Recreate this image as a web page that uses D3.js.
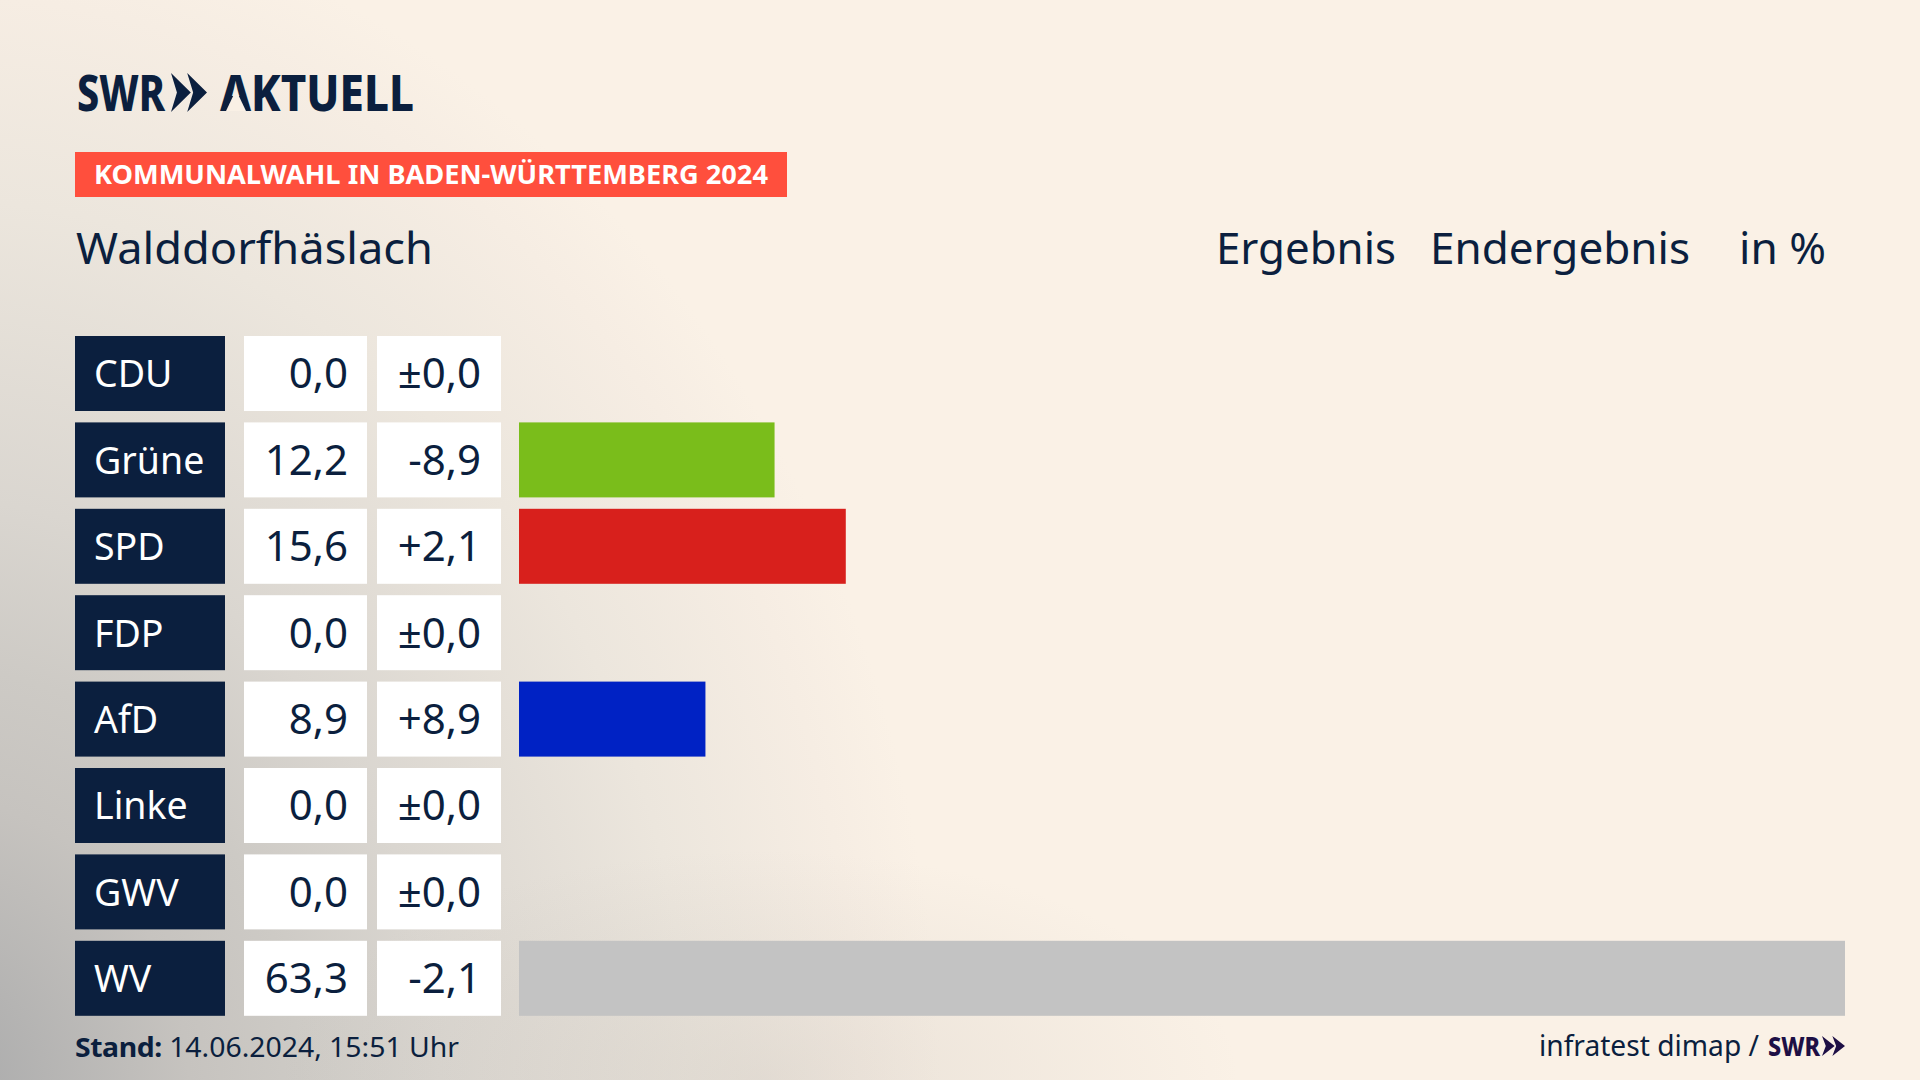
<!DOCTYPE html>
<html lang="de">
<head>
    <meta charset="UTF-8">
    <title>Walddorfhäslach</title>
    <style>
        html, body { margin: 0; padding: 0; background: #faf1e6; overflow: hidden; }
        svg { display: block; }
        text { font-family: "Noto Sans", sans-serif; fill: #0b1f3e; }
    </style>
    <script src="https://d3js.org/d3.v7.min.js"></script>
</head>
<body>
<svg width="1920" height="1080"></svg>
<script>
    const parties = ["CDU", "Grüne", "SPD", "FDP", "AfD", "Linke", "GWV", "WV"];
    const results = [0.0, 12.2, 15.6, 0.0, 8.9, 0.0, 0.0, 63.3];
    const changes = [0.0, -8.9, 2.1, 0.0, 8.9, 0.0, 0.0, -2.1];
    const barColors = ["#000000", "#7abd1b", "#d8201c", "#ffd500", "#0022c4", "#b4006e", "#c3c3c3", "#c3c3c3"];

    const navy = "#0b1f3e";
    const svg = d3.select("svg");

    // hintergrund: grauer verlauf von links unten, dazu ein schwacher ausläufer am unteren rand
    const defs = svg.append("defs");
    const bg = defs.append("radialGradient").attr("id", "bg")
        .attr("gradientUnits", "userSpaceOnUse")
        .attr("cx", 0).attr("cy", 0).attr("r", 1)
        .attr("gradientTransform", "translate(-60,1100) scale(1000,1200)");
    [[0, "#a8a8a8"], [0.05, "#aeaeae"], [0.25, "#c6c3bf"], [0.36, "#cdcac5"], [0.5, "#dad6d0"],
     [0.75, "#ece6dd"], [0.92, "#f6ede3"], [1, "#faf1e6"]]
        .forEach(s => bg.append("stop").attr("offset", s[0]).attr("stop-color", s[1]));
    const lobe = defs.append("radialGradient").attr("id", "lobe")
        .attr("gradientUnits", "userSpaceOnUse")
        .attr("cx", 0).attr("cy", 0).attr("r", 1)
        .attr("gradientTransform", "translate(760,1080) scale(480,230)");
    lobe.append("stop").attr("offset", 0).attr("stop-color", "#b5b0aa").attr("stop-opacity", 0.25);
    lobe.append("stop").attr("offset", 1).attr("stop-color", "#b5b0aa").attr("stop-opacity", 0);
    svg.append("rect").attr("width", 1920).attr("height", 1080).attr("fill", "url(#bg)");
    svg.append("rect").attr("width", 1920).attr("height", 1080).attr("fill", "url(#lobe)");

    // textLength hält die Breiten wie im Original
    function label(x, y, str, size, width, weight, color, anchor) {
        const t = svg.append("text")
            .attr("x", x).attr("y", y)
            .attr("font-size", size)
            .attr("font-weight", weight || 400)
            .attr("text-anchor", anchor || "start")
            .text(str);
        if (width) t.attr("textLength", width).attr("lengthAdjust", "spacingAndGlyphs");
        if (color) t.style("fill", color);
        return t;
    }

    function chevrons(x, y, w, h, color) {
        const cw = w * 0.55;
        [0, w - cw].forEach(dx => {
            const p = d3.path();
            p.moveTo(x + dx, y);
            p.lineTo(x + dx + cw, y + h / 2);
            p.lineTo(x + dx, y + h);
            p.lineTo(x + dx + cw * 0.3, y + h / 2);
            p.closePath();
            svg.append("path").attr("d", p.toString()).attr("fill", color);
        });
    }

    // logo
    label(77, 110.5, "SWR", 49, 88, 800);
    chevrons(171, 73, 36, 39, navy);
    label(220, 110.5, "AKTUELL", 49, 194, 800);
    // im Logo hat das A keinen Querstrich
    svg.append("path").attr("d", "M236,90L246,111L226,111Z").attr("fill", "#f9f0e5");

    // kopf
    svg.append("rect").attr("x", 75).attr("y", 152).attr("width", 712).attr("height", 45).attr("fill", "#ff4f3d");
    label(94, 184, "KOMMUNALWAHL IN BADEN-WÜRTTEMBERG 2024", 27, 674, 700, "#ffffff");
    label(76, 264, "Walddorfhäslach", 44, 357);
    label(1216, 264, "Ergebnis", 44, 180);
    label(1430, 264, "Endergebnis", 44, 260);
    label(1739, 264, "in %", 44, 87);

    // skalen
    const y = d3.scaleBand().domain(parties).range([336, 1015.8]).paddingInner(0.132);
    const x = d3.scaleLinear().domain([0, 63.3]).range([519, 1845]);

    const fmt = v => Math.abs(v).toFixed(1).replace(".", ",");
    const fmtChange = v => (v === 0 ? "±" : v > 0 ? "+" : "-") + fmt(v);

    const rows = svg.selectAll("g.row").data(parties).enter().append("g")
        .attr("class", "row")
        .attr("transform", d => `translate(0,${y(d)})`);

    rows.append("rect").attr("x", 75).attr("width", 150).attr("height", y.bandwidth()).attr("fill", navy);
    rows.append("rect").attr("x", 244).attr("width", 123).attr("height", y.bandwidth()).attr("fill", "#ffffff");
    rows.append("rect").attr("x", 377).attr("width", 124).attr("height", y.bandwidth()).attr("fill", "#ffffff");

    rows.append("rect")
        .attr("x", x(0))
        .attr("width", (d, i) => x(results[i]) - x(0))
        .attr("height", y.bandwidth())
        .attr("fill", (d, i) => barColors[i]);

    const base = y.bandwidth() / 2 + 15;
    rows.append("text").attr("x", 94).attr("y", base - 1).attr("font-size", 37.5)
        .style("fill", "#ffffff").text(d => d);
    rows.append("text").attr("x", 348).attr("y", base).attr("font-size", 42)
        .attr("text-anchor", "end").text((d, i) => fmt(results[i]));
    rows.append("text").attr("x", 481).attr("y", base).attr("font-size", 42)
        .attr("text-anchor", "end").text((d, i) => fmtChange(changes[i]));

    // fuss
    const stand = label(75, 1057, "", 27, 384);
    stand.append("tspan").attr("font-weight", 700).attr("letter-spacing", "-0.4px").text("Stand:");
    stand.append("tspan").text(" 14.06.2024, 15:51 Uhr");
    label(1539, 1056, "infratest dimap /", 29, 220);
    label(1768, 1056, "SWR", 26, 52, 800, "#1d0f45");
    chevrons(1822, 1036, 23, 20, "#1d0f45");
</script>
</body>
</html>
